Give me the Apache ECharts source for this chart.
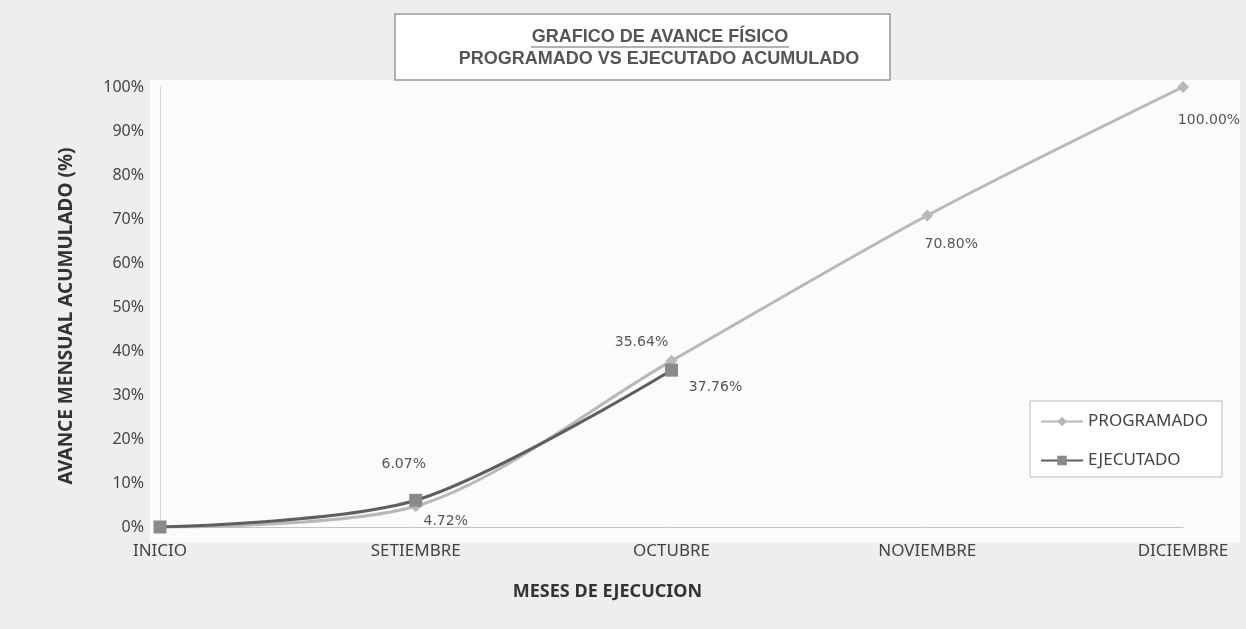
<!DOCTYPE html>
<html>
<head>
<meta charset="utf-8">
<script src="https://cdn.jsdelivr.net/npm/echarts@6/dist/echarts.min.js"></script>
<style>
  html, body { margin: 0; padding: 0; background: #eeeeee; }
  #chart { width: 1246px; height: 629px; }
</style>
</head>
<body>
<div id="chart"></div>
<script>
// datos del grafico
const meses = ['INICIO', 'SETIEMBRE', 'OCTUBRE', 'NOVIEMBRE', 'DICIEMBRE'];
const programado = [0, 4.72, 37.76, 70.80, 100.00];
const ejecutado = [0, 6.07, 35.64];
const yTicks = [0, 10, 20, 30, 40, 50, 60, 70, 80, 90, 100];

// desplazamiento de etiquetas (como en el grafico de Excel)
const offsetProg = [[0, 0], [30, -12], [44, 0], [24, 2], [26, 6]];
const offsetEjec = [[0, 0], [-12, -8], [-30, 0]];

const chart = echarts.init(document.getElementById('chart'));

function conEtiquetas(valores, offsets) {
  return valores.map((v, i) => ({
    value: v,
    label: { offset: offsets[i], show: i > 0 }
  }));
}

const fuente = 'Noto Sans';

const option = {
  backgroundColor: '#eeeeee',
  animation: false,
  graphic: [
    {
      type: 'rect',
      shape: { x: 150, y: 80, width: 1090, height: 462 },
      style: { fill: '#fbfbfb', stroke: null },
      z: -10
    },
    {
      type: 'rect',
      shape: { x: 395, y: 14, width: 495, height: 66 },
      style: { fill: '#ffffff', stroke: '#999', lineWidth: 1.5 }
    },
    {
      type: 'text',
      x: 660, y: 28,
      style: {
        text: 'GRAFICO DE AVANCE FÍSICO',
        font: 'bold 18px "Liberation Sans", Arial',
        fill: '#555',
        textAlign: 'center'
      }
    },
    {
      type: 'line',
      shape: { x1: 531, y1: 47, x2: 789, y2: 47 },
      style: { stroke: '#666', lineWidth: 1 }
    },
    {
      type: 'text',
      x: 659, y: 50,
      style: {
        text: 'PROGRAMADO VS EJECUTADO ACUMULADO',
        font: 'bold 18px "Liberation Sans", Arial',
        fill: '#555',
        textAlign: 'center'
      }
    }
  ],
  legend: {
    orient: 'vertical',
    right: 24,
    top: 401,
    itemGap: 22,
    itemWidth: 42,
    itemHeight: 12,
    padding: [12, 14, 8, 10],
    backgroundColor: '#ffffff',
    borderColor: '#bbb',
    borderWidth: 1,
    textStyle: { fontFamily: fuente, fontSize: 17, color: '#444' },
    data: ['PROGRAMADO', 'EJECUTADO']
  },
  grid: { left: 160, right: 63, top: 87, bottom: 102, containLabel: false },
  xAxis: {
    type: 'category',
    data: meses,
    boundaryGap: false,
    name: 'MESES DE EJECUCION',
    nameLocation: 'middle',
    nameGap: 56,
    nameTextStyle: {
      fontFamily: fuente, fontSize: 18, fontWeight: 'bold', color: '#333',
      padding: [0, 128, 0, 0]
    },
    axisLine: { lineStyle: { color: '#c4c4c4' } },
    axisTick: { show: false },
    axisLabel: { fontFamily: fuente, fontSize: 17, color: '#444', margin: 16 },
    splitLine: { show: false }
  },
  yAxis: {
    type: 'value',
    min: 0,
    max: 100,
    interval: 10,
    name: 'AVANCE MENSUAL ACUMULADO (%)',
    nameLocation: 'middle',
    nameGap: 84,
    nameTextStyle: {
      fontFamily: fuente, fontSize: 19, fontWeight: 'bold', color: '#333',
      padding: [0, 18, 0, 0]
    },
    axisLine: { show: true, lineStyle: { color: '#d4d4d4' } },
    axisTick: { show: false },
    axisLabel: {
      fontFamily: fuente, fontSize: 16, color: '#444', margin: 16,
      formatter: v => yTicks.includes(v) ? v + '%' : ''
    },
    splitLine: { show: false }
  },
  series: [
    {
      name: 'PROGRAMADO',
      type: 'line',
      data: conEtiquetas(programado, offsetProg),
      smooth: 0.3,
      symbol: 'diamond',
      symbolSize: 12,
      lineStyle: { color: '#b8b8b8', width: 3 },
      itemStyle: { color: '#b8b8b8' },
      label: {
        show: true,
        position: 'bottom',
        distance: 14,
        formatter: p => p.value.toFixed(2) + '%',
        fontFamily: 'DejaVu Sans',
        fontSize: 14,
        color: '#555'
      },
      z: 2
    },
    {
      name: 'EJECUTADO',
      type: 'line',
      data: conEtiquetas(ejecutado, offsetEjec),
      smooth: 0.3,
      symbol: 'rect',
      symbolSize: 13,
      lineStyle: { color: '#5e5e5e', width: 3 },
      itemStyle: { color: '#8a8a8a' },
      label: {
        show: true,
        position: 'top',
        distance: 14,
        formatter: p => p.value.toFixed(2) + '%',
        fontFamily: 'DejaVu Sans',
        fontSize: 14,
        color: '#555'
      },
      z: 3
    }
  ]
};

chart.setOption(option);
</script>
</body>
</html>
